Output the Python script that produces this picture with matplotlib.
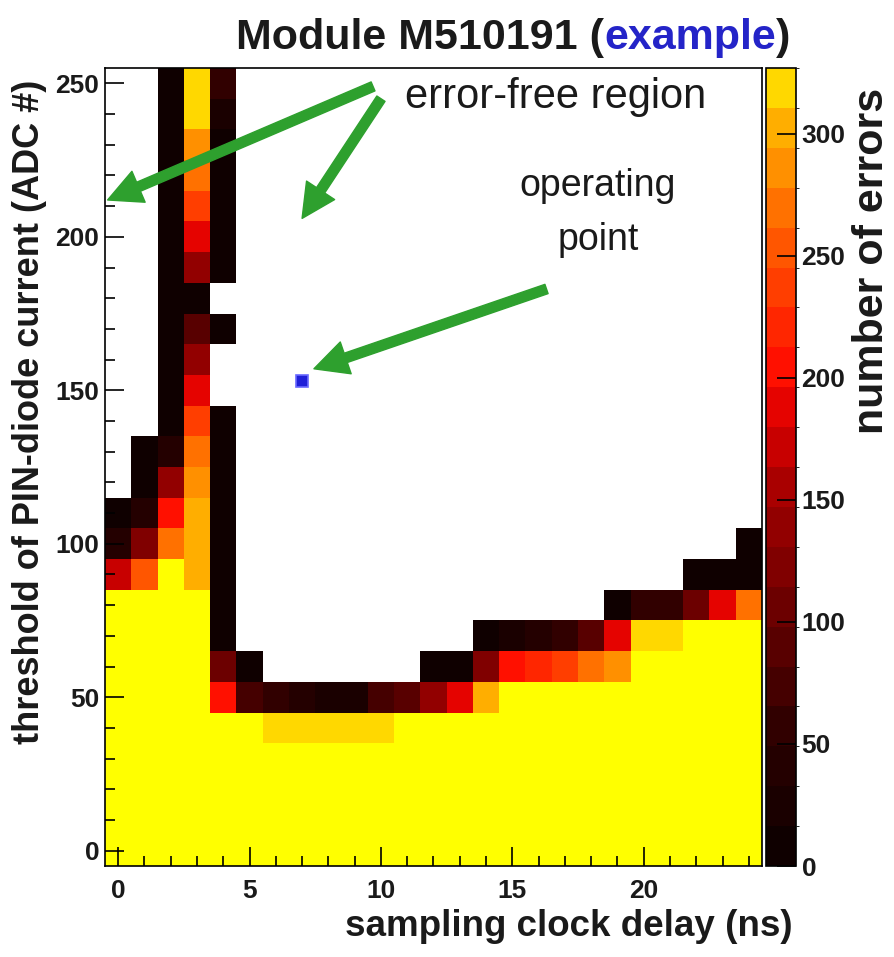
import numpy as np
import matplotlib
matplotlib.use("Agg")
import matplotlib.pyplot as plt
from matplotlib.colors import LinearSegmentedColormap, ListedColormap, BoundaryNorm
from matplotlib.ticker import MultipleLocator

plt.rcParams['font.family'] = ['Liberation Sans', 'DejaVu Sans']

# Bin centres
delay_ns = np.arange(0, 25)              # sampling clock delay, 1 ns bins
threshold_adc = np.arange(0, 260, 10)    # PIN-diode threshold, 10 ADC bins

# Number of errors per delay column, listed from threshold 0 upward (26 bins).
# S = saturated (at the top of the scale), N = no errors recorded.
S = 330
N = None
errors_by_delay = [
    [S, S, S, S, S, S, S, S, S, 175, 35, 10, N, N, N, N, N, N, N, N, N, N, N, N, N, N],          # 0
    [S, S, S, S, S, S, S, S, S, 250, 115, 40, 12, 8, N, N, N, N, N, N, N, N, N, N, N, N],        # 1
    [S, S, S, S, S, S, S, S, S, S, 262, 210, 145, 35, 8, 8, 8, 8, 8, 8, 8, 8, 8, 8, 8, 8],       # 2
    [S, S, S, S, S, S, S, S, S, 305, 298, 295, 290, 265, 245, 195, 145, 90, 10, 135, 185, 245,
     270, 290, 316, 318],                                                                        # 3
    [S, S, S, S, S, 200, 100, 10, 10, 10, 10, 10, 10, 10, 10, N, N, 10, N, 10, 10, 10, 10, 10,
     20, 55],                                                                                    # 4
    [S, S, S, S, S, 80, 12, N, N, N, N, N, N, N, N, N, N, N, N, N, N, N, N, N, N, N],            # 5
    [S, S, S, S, 316, 60, N, N, N, N, N, N, N, N, N, N, N, N, N, N, N, N, N, N, N, N],           # 6
    [S, S, S, S, 316, 45, N, N, N, N, N, N, N, N, N, N, N, N, N, N, N, N, N, N, N, N],           # 7
    [S, S, S, S, 316, 28, N, N, N, N, N, N, N, N, N, N, N, N, N, N, N, N, N, N, N, N],           # 8
    [S, S, S, S, 316, 22, N, N, N, N, N, N, N, N, N, N, N, N, N, N, N, N, N, N, N, N],           # 9
    [S, S, S, S, 316, 70, N, N, N, N, N, N, N, N, N, N, N, N, N, N, N, N, N, N, N, N],           # 10
    [S, S, S, S, S, 95, N, N, N, N, N, N, N, N, N, N, N, N, N, N, N, N, N, N, N, N],             # 11
    [S, S, S, S, S, 140, 10, N, N, N, N, N, N, N, N, N, N, N, N, N, N, N, N, N, N, N],           # 12
    [S, S, S, S, S, 180, 12, N, N, N, N, N, N, N, N, N, N, N, N, N, N, N, N, N, N, N],           # 13
    [S, S, S, S, S, 295, 125, 10, N, N, N, N, N, N, N, N, N, N, N, N, N, N, N, N, N, N],         # 14
    [S, S, S, S, S, S, 205, 25, N, N, N, N, N, N, N, N, N, N, N, N, N, N, N, N, N, N],           # 15
    [S, S, S, S, S, S, 225, 35, N, N, N, N, N, N, N, N, N, N, N, N, N, N, N, N, N, N],           # 16
    [S, S, S, S, S, S, 245, 50, N, N, N, N, N, N, N, N, N, N, N, N, N, N, N, N, N, N],           # 17
    [S, S, S, S, S, S, 265, 85, N, N, N, N, N, N, N, N, N, N, N, N, N, N, N, N, N, N],           # 18
    [S, S, S, S, S, S, 290, 195, 10, N, N, N, N, N, N, N, N, N, N, N, N, N, N, N, N, N],         # 19
    [S, S, S, S, S, S, S, 316, 50, N, N, N, N, N, N, N, N, N, N, N, N, N, N, N, N, N],           # 20
    [S, S, S, S, S, S, S, 316, 65, N, N, N, N, N, N, N, N, N, N, N, N, N, N, N, N, N],           # 21
    [S, S, S, S, S, S, S, S, 105, 10, N, N, N, N, N, N, N, N, N, N, N, N, N, N, N, N],           # 22
    [S, S, S, S, S, S, S, S, 185, 12, N, N, N, N, N, N, N, N, N, N, N, N, N, N, N, N],           # 23
    [S, S, S, S, S, S, S, S, 272, 15, 10, N, N, N, N, N, N, N, N, N, N, N, N, N, N, N],          # 24
]

# Chosen operating point
op_delay = 7
op_threshold = 153

z_max = 327
n_levels = 20

# ---------------------------------------------------------------------------
grid = np.array([[np.nan if v is None else v for v in col] for col in errors_by_delay],
                dtype=float).T
grid = np.ma.masked_invalid(grid)

x_edges = np.append(delay_ns - 0.5, delay_ns[-1] + 0.5)
y_edges = np.append(threshold_adc - 5, threshold_adc[-1] + 5)

# Dark-body style palette, anchored in units of the error count
anchors = [(0, "#0a0000"), (50, "#2a0000"), (100, "#640000"), (150, "#a00000"),
           (185, "#e00000"), (205, "#ff1000"), (250, "#ff5000"), (275, "#ff7800"),
           (300, "#ffa800"), (315, "#ffcc00"), (z_max, "#ffee00")]
base = LinearSegmentedColormap.from_list("heat", [(v / z_max, c) for v, c in anchors])
cmap = ListedColormap([base((i + 0.5) / n_levels) for i in range(n_levels)])
cmap.set_over("#ffff00")
cmap.set_bad("white")
norm = BoundaryNorm(np.linspace(0, z_max, n_levels + 1), n_levels)

W, H = 895, 957
fig = plt.figure(figsize=(W / 100, H / 100), dpi=100)
ax = fig.add_axes([105 / W, 91 / H, 657 / W, 798 / H])
cax = fig.add_axes([766 / W, 91 / H, 30 / W, 798 / H])

mesh = ax.pcolormesh(x_edges, y_edges, grid, cmap=cmap, norm=norm)
ax.plot([op_delay], [op_threshold], marker="s", markersize=9, color="#2020d8",
        markeredgecolor="#6a6aff", markeredgewidth=1.2, zorder=5)

ax.set_xlim(x_edges[0], x_edges[-1])
ax.set_ylim(y_edges[0], y_edges[-1])
ax.xaxis.set_major_locator(MultipleLocator(5))
ax.xaxis.set_minor_locator(MultipleLocator(1))
ax.yaxis.set_major_locator(MultipleLocator(50))
ax.yaxis.set_minor_locator(MultipleLocator(10))
ax.tick_params(which="both", direction="in", top=False, right=False, width=1.2, color="black")
ax.tick_params(which="major", length=14)
ax.tick_params(which="minor", length=7)
ax.tick_params(axis="x", which="major", pad=9)
ax.tick_params(axis="y", which="major", pad=4)
for lab in ax.get_xticklabels() + ax.get_yticklabels():
    lab.set_fontsize(19)
    lab.set_fontweight("bold")
    lab.set_color("#1a1a1a")
for sp in ax.spines.values():
    sp.set_linewidth(1.2)

cb = fig.colorbar(mesh, cax=cax, ticks=np.arange(0, 301, 50))
cb.outline.set_linewidth(1.2)
cax.tick_params(direction="in", length=14, width=1.2, pad=4)
for lab in cax.get_yticklabels():
    lab.set_fontsize(19)
    lab.set_fontweight("bold")
    lab.set_color("#1a1a1a")

# Axis titles (right-aligned at the end of each axis)
fig.text(793 / W, 1 - 927 / H, "sampling clock delay (ns)", ha="right", va="center",
         fontsize=26.5, fontweight="bold", color="#1a1a1a")
fig.text(30 / W, 1 - 80 / H, "threshold of PIN-diode current (ADC #)", rotation=90,
         ha="center", va="top", fontsize=26, fontweight="bold", color="#1a1a1a")
fig.text(872 / W, 1 - 88 / H, "number of errors", rotation=90, ha="center", va="top",
         fontsize=31, fontweight="bold", color="#1a1a1a")

# Title with the highlighted word
renderer = fig.canvas.get_renderer()
x0 = 236 / W
ty = 1 - 38 / H
for piece, col in [("Module M510191 (", "#1a1a1a"), ("example", "#2424c8"), (")", "#1a1a1a")]:
    t = fig.text(x0, ty, piece, ha="left", va="center", fontsize=31, fontweight="bold", color=col)
    bb = t.get_window_extent(renderer)
    x0 = bb.x1 / W

# Annotations
green = "#2ea02e"
arrow_kw = dict(arrowstyle="simple,head_length=1.1,head_width=1.1,tail_width=0.32",
                color=green, mutation_scale=22, shrinkA=0, shrinkB=0)
ax.annotate("", xy=(-0.4, 212), xytext=(9.7, 249), arrowprops=arrow_kw)
ax.annotate("", xy=(7.0, 206), xytext=(10.0, 245), arrowprops=arrow_kw)
ax.annotate("", xy=(7.45, 157), xytext=(16.3, 183), arrowprops=arrow_kw)

fig.text(556 / W, 1 - 97 / H, "error-free region", ha="center", va="center",
         fontsize=30, color="#1a1a1a")
fig.text(598 / W, 1 - 186 / H, "operating", ha="center", va="center",
         fontsize=27, color="#1a1a1a")
fig.text(598 / W, 1 - 240 / H, "point", ha="center", va="center",
         fontsize=27, color="#1a1a1a")

fig.savefig("out.png", dpi=100)
